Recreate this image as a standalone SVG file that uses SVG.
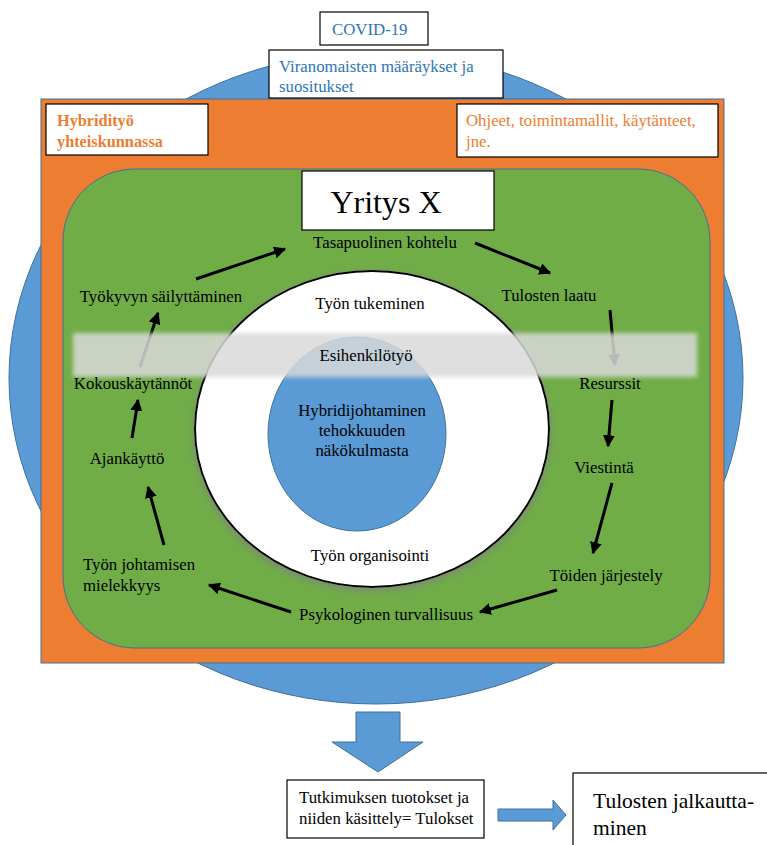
<svg xmlns="http://www.w3.org/2000/svg" width="767" height="845" viewBox="0 0 767 845" font-family="Liberation Serif, Times New Roman, DejaVu Serif, serif">
<defs>
<style>
text{font-family:'Liberation Serif','Times New Roman','DejaVu Serif',serif;font-size:16.8px;fill:#000}
.box{fill:#fff;stroke:#000;stroke-width:1.2}
text.blueTxt{fill:#2e75b6}
text.orTxt{fill:#ed7d31}
.arr{stroke:#000;stroke-width:3;fill:none;marker-end:url(#ah)}
.shape{stroke:#41719c;stroke-width:1}
</style>
<marker id="ah" viewBox="0 0 10 10" refX="9" refY="5" markerWidth="4" markerHeight="4" orient="auto" markerUnits="strokeWidth">
<path d="M0,0 L10,5 L0,10 z" fill="#000"/>
</marker>
<filter id="glow" x="-20%" y="-20%" width="140%" height="140%">
<feGaussianBlur in="SourceAlpha" stdDeviation="4"/>
<feOffset dx="0" dy="3" result="b"/>
<feFlood flood-color="#7f7f7f" flood-opacity="0.8"/>
<feComposite in2="b" operator="in"/>
<feMerge><feMergeNode/><feMergeNode in="SourceGraphic"/></feMerge>
</filter>
<filter id="soft" x="-5%" y="-30%" width="110%" height="160%">
<feGaussianBlur stdDeviation="2"/>
</filter>
</defs>

<g id="background">
<ellipse id="covid-circle" class="shape" cx="376" cy="378" rx="367" ry="326" fill="#5b9bd5"/>
<rect id="society" class="shape" x="41" y="99" width="683" height="564" fill="#ed7d31"/>
<rect id="company" class="shape" x="63" y="169" width="647" height="479" rx="72" ry="72" fill="#70ad47"/>
</g>

<g id="covid">
<rect class="box" x="320" y="12" width="108" height="33"/>
<text class="blueTxt" x="332" y="35">COVID-19</text>
</g>
<g id="viranomaiset">
<rect class="box" x="269" y="50" width="234" height="48"/>
<text class="blueTxt" x="279" y="72">Viranomaisten määräykset ja</text>
<text class="blueTxt" x="279" y="92">suositukset</text>
</g>
<g id="hybridityo">
<rect class="box" x="46" y="104" width="162" height="51"/>
<text class="orTxt" x="57" y="126" style="font-weight:bold;font-size:16.3px">Hybridityö</text>
<text class="orTxt" x="57" y="147" style="font-weight:bold;font-size:16.3px">yhteiskunnassa</text>
</g>
<g id="ohjeet">
<rect class="box" x="457" y="104" width="261" height="53"/>
<text class="orTxt" x="466" y="126">Ohjeet, toimintamallit, käytänteet,</text>
<text class="orTxt" x="466" y="147">jne.</text>
</g>
<g id="yritys">
<rect class="box" x="302" y="171" width="192" height="59"/>
<text x="386" y="213" text-anchor="middle" style="font-size:32px">Yritys X</text>
</g>

<g id="center">
<ellipse id="white-ring" cx="372" cy="429" rx="177" ry="158" fill="#fff" stroke="#000" stroke-width="2" filter="url(#glow)"/>
<ellipse id="inner-blue" class="shape" cx="357" cy="434" rx="89" ry="97" fill="#5b9bd5"/>
<text x="370" y="309" text-anchor="middle">Työn tukeminen</text>
<text x="370" y="561" text-anchor="middle">Työn organisointi</text>
<text x="362" y="416" text-anchor="middle">Hybridijohtaminen</text>
<text x="362" y="436" text-anchor="middle">tehokkuuden</text>
<text x="362" y="456" text-anchor="middle">näkökulmasta</text>
</g>

<g id="connectors">
<line class="arr" x1="196" y1="279" x2="285" y2="249"/>
<line class="arr" x1="475" y1="243" x2="550" y2="273"/>
<line class="arr" x1="610" y1="310" x2="615" y2="365"/>
<line class="arr" x1="612" y1="400" x2="608" y2="446"/>
<line class="arr" x1="612" y1="483" x2="593" y2="553"/>
<line class="arr" x1="557" y1="590" x2="480" y2="612"/>
<line class="arr" x1="291" y1="612" x2="209" y2="585"/>
<line class="arr" x1="164" y1="545" x2="148" y2="487"/>
<line class="arr" x1="132" y1="438" x2="138" y2="400"/>
<line class="arr" x1="140" y1="367" x2="158" y2="313"/>
</g>

<g id="tasapuolinen"><text x="385" y="248" text-anchor="middle">Tasapuolinen kohtelu</text></g>
<g id="laatu"><text x="549" y="301" text-anchor="middle">Tulosten laatu</text></g>

<rect id="band" x="73" y="333" width="624" height="44" fill="#d9d9d9" fill-opacity="0.85" filter="url(#soft)"/>

<g id="esihenkilotyo"><text x="366" y="361" text-anchor="middle">Esihenkilötyö</text></g>
<g id="kokous"><text x="133" y="389" text-anchor="middle">Kokouskäytännöt</text></g>
<g id="resurssit"><text x="610" y="389" text-anchor="middle">Resurssit</text></g>
<g id="tyokyky"><text x="161" y="302" text-anchor="middle">Työkyvyn säilyttäminen</text></g>
<g id="ajankaytto"><text x="127" y="464" text-anchor="middle">Ajankäyttö</text></g>
<g id="viestinta"><text x="604" y="473" text-anchor="middle">Viestintä</text></g>
<g id="johtaminen">
<text x="83" y="570">Työn johtamisen</text>
<text x="83" y="591">mielekkyys</text>
</g>
<g id="toiden"><text x="606" y="581" text-anchor="middle">Töiden järjestely</text></g>
<g id="psyk"><text x="386" y="620" text-anchor="middle">Psykologinen turvallisuus</text></g>

<g id="down-arrow">
<path class="shape" d="M356,712 H400 V742 H423 L378,772 L332,742 H356 Z" fill="#5b9bd5"/>
</g>
<g id="tutkimus">
<rect class="box" x="287" y="780" width="197" height="58"/>
<text x="299" y="803">Tutkimuksen tuotokset ja</text>
<text x="299" y="824">niiden käsittely= Tulokset</text>
</g>
<g id="right-arrow">
<path class="shape" d="M498,809 H553 V800 L566,815 L553,830 V821 H498 Z" fill="#5b9bd5"/>
</g>
<g id="jalkautus">
<rect class="box" x="573" y="773" width="200" height="80"/>
<text x="593" y="808" style="font-size:21.5px">Tulosten jalkautta-</text>
<text x="593" y="835" style="font-size:21.5px">minen</text>
</g>
</svg>
